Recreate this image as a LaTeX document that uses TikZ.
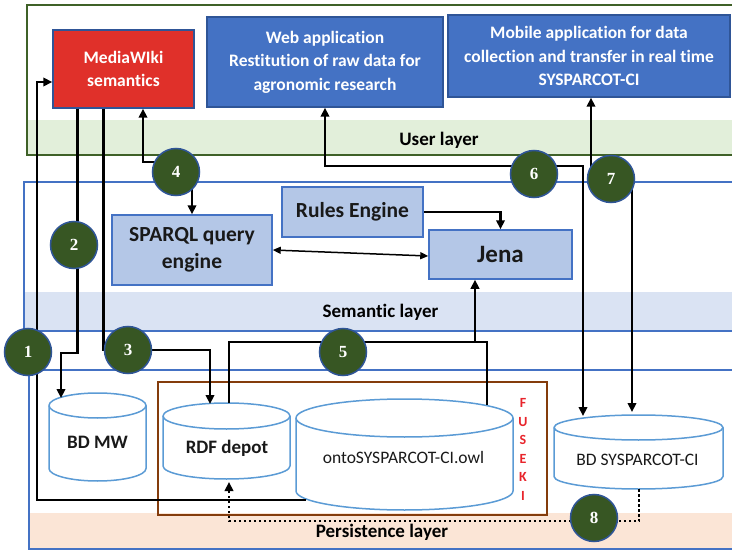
\documentclass[tikz,border=0pt]{standalone}
\usepackage{fontspec}
\setmainfont{Carlito}[Ligatures=NoCommon]
\newfontfamily\numfont{Liberation Serif}
\usetikzlibrary{arrows.meta,calc}
\definecolor{userline}{HTML}{3F6128}
\definecolor{userband}{HTML}{E2EFDA}
\definecolor{semline}{HTML}{4472C4}
\definecolor{semband}{HTML}{DAE3F3}
\definecolor{perband}{HTML}{FBE5D6}
\definecolor{mwred}{HTML}{E0302A}
\definecolor{appblue}{HTML}{4472C4}
\definecolor{darkblue}{HTML}{2F5597}
\definecolor{lightbox}{HTML}{B4C7E7}
\definecolor{cylline}{HTML}{5B9BD5}
\definecolor{fusekiline}{HTML}{843C0C}
\definecolor{circfill}{HTML}{375623}
\definecolor{fusekitext}{HTML}{E8242B}
\tikzset{
 appbox/.style={draw=darkblue, line width=1.5pt, fill=appblue, text=white, font=\fontsize{17.5}{23.5}\selectfont\bfseries, align=center, inner sep=0pt},
 mwbox/.style={appbox, fill=mwred},
 sembox/.style={draw=semline, line width=1.5pt, fill=lightbox, text=black!90, align=center, inner sep=0pt},
 cylstyle/.style={draw=cylline, line width=1.5pt, fill=white},
 arr/.style={line width=2.5pt, -{Triangle[length=9pt,width=8.5pt]}},
 darr/.style={line width=2.5pt, {Triangle[length=9pt,width=8.5pt]}-{Triangle[length=9pt,width=8.5pt]}},
 plainline/.style={line width=2.5pt},
 num/.style={circle, minimum size=47pt, inner sep=0pt, fill=circfill, draw=darkblue, line width=1.5pt, text=white, font=\numfont\fontsize{17}{17}\selectfont\bfseries},
 laylabel/.style={font=\fontsize{19}{19}\selectfont\bfseries, text=black, inner sep=0pt},
 dbtext/.style={font=\fontsize{19}{19}\selectfont\bfseries, text=black!90, inner sep=0pt},
 dbtextr/.style={font=\fontsize{17.5}{17.5}\selectfont, text=black!90, inner sep=0pt},
}
\newcommand\dbcyl[5]{%
 \pgfmathsetmacro\dbrx{(#2-#1)/2}%
 \pgfmathsetmacro\dbya{#3+#5}%
 \pgfmathsetmacro\dbyb{#4-#5}%
 \filldraw[cylstyle] (#1,\dbyb) -- (#1,\dbya) arc[start angle=180,end angle=0,x radius=\dbrx pt,y radius=#5pt] -- (#2,\dbyb) arc[start angle=0,end angle=-180,x radius=\dbrx pt,y radius=#5pt] -- cycle;
 \draw[cylstyle, fill=none] (#1,\dbya) arc[start angle=180,end angle=360,x radius=\dbrx pt,y radius=#5pt];
}
\begin{document}
\begin{tikzpicture}[x=1pt,y=-1pt]
\clip (0,0) rectangle (732,551);
% layers
\fill[userband] (27,120) rectangle (745,155);
\draw[userline, line width=2pt] (27,5) rectangle (745,155);
\fill[semband] (24,292) rectangle (745,331);
\draw[semline, line width=1.5pt] (24,182) rectangle (745,331);
\fill[perband] (29,513) rectangle (745,549);
\draw[semline, line width=2pt] (29,370) rectangle (745,549);
\node[laylabel] (userlab) at (439,140) {User layer};
\node[laylabel] (semlab) at (380.5,312) {Semantic layer};
\node[laylabel] (perlab) at (382,532) {Persistence layer};
% user layer boxes
\node[mwbox, minimum width=141pt, minimum height=78pt] (mw) at (123.5,69) {MediaWIki\\semantics};
\node[appbox, minimum width=236pt, minimum height=90pt] (web) at (325,62) {Web application\\Restitution of raw data for\\agronomic research};
\node[appbox, minimum width=282pt, minimum height=82pt] (mob) at (589,56) {Mobile application for data\\collection and transfer in real time\\SYSPARCOT-CI};
% semantic layer boxes
\node[sembox, font=\fontsize{21.5}{27}\selectfont\bfseries, minimum width=160pt, minimum height=70pt] (sparql) at (192,250) {SPARQL query\\engine};
\node[sembox, font=\fontsize{21.5}{26}\selectfont\bfseries, minimum width=141pt, minimum height=50pt] (rules) at (352.5,212) {Rules Engine};
\node[sembox, font=\fontsize{25}{30}\selectfont\bfseries, minimum width=143pt, minimum height=49pt] (jena) at (500.5,254.5) {Jena};
% persistence layer
\node[draw=fusekiline, line width=1.5pt, minimum width=389pt, minimum height=133pt, inner sep=0pt] (fuseki) at (352.5,448.5) {};
\node[text=fusekitext, font=\fontsize{14}{18.6}\selectfont\bfseries, align=center, inner sep=0pt] (fusekilab) at (523,449.5) {F\\U\\S\\E\\K\\I};
\dbcyl{49}{146}{393}{481}{12.5}
\dbcyl{163}{290}{403}{479}{13}
\dbcyl{296}{513}{399}{510}{19}
\dbcyl{554}{723}{415}{489}{12.5}
\node[dbtext] (bdmw) at (97.5,442) {BD MW};
\node[dbtext] (rdf) at (227,448) {RDF depot};
\node[dbtextr] (onto) at (403.5,457) {ontoSYSPARCOT-CI.owl};
\node[dbtextr] (bdsys) at (637.5,460) {BD SYSPARCOT-CI};
% attachment points on the cylinders
\coordinate (ontoL) at (306,500);
\coordinate (bdmwT) at (61,398);
\coordinate (rdfT3) at (210,404);
\coordinate (rdfT5) at (229,403);
\coordinate (ontoT) at (487,405);
\coordinate (bdsysT6) at (583,416);
\coordinate (bdsysT7) at (632,412);
\coordinate (bdsysB) at (639,489);
\coordinate (rdfB) at (229,482);
% connectors
\draw[arr] (ontoL) -- (37,500) |- ([yshift=-13pt]mw.west);
\draw[arr] ([xshift=25pt]mw.south west) |- (61,353) -- (bdmwT);
\draw[arr] ([xshift=51pt]mw.south west) |- (210,350) -- (rdfT3);
\draw[darr] ([xshift=19.5pt]mw.south) |- (192,162) -- (sparql.north);
\draw[plainline] (rdfT5) -- (229,342) -| (ontoT);
\draw[arr] (475,342) -- ([xshift=-25.5pt]jena.south);
\draw[darr] (web.south) |- (583,166) -- (bdsysT6);
\draw[darr] ([xshift=2pt]mob.south) |- (632,179) -- (bdsysT7);
\draw[line width=1.5pt, {Triangle[length=8pt,width=7pt]}-{Triangle[length=8pt,width=7pt]}] (sparql.east) -- ([yshift=-1.5pt]jena.west);
\draw[arr] (rules.east) -| (jena.north);
\draw[line width=2.5pt, dash pattern=on 2.5pt off 2.5pt, -{Triangle[length=9pt,width=8.5pt]}] (bdsysB) |- (229,521) -- (rdfB);
% numbered circles
\node[num] (c1) at (28,352) {1};
\node[num] (c2) at (74,245) {2};
\node[num] (c3) at (128,350) {3};
\node[num] (c4) at (176,172) {4};
\node[num] (c5) at (343,352) {5};
\node[num] (c6) at (534,174) {6};
\node[num] (c7) at (611,179) {7};
\node[num] (c8) at (594,518) {8};
\end{tikzpicture}
\end{document}
